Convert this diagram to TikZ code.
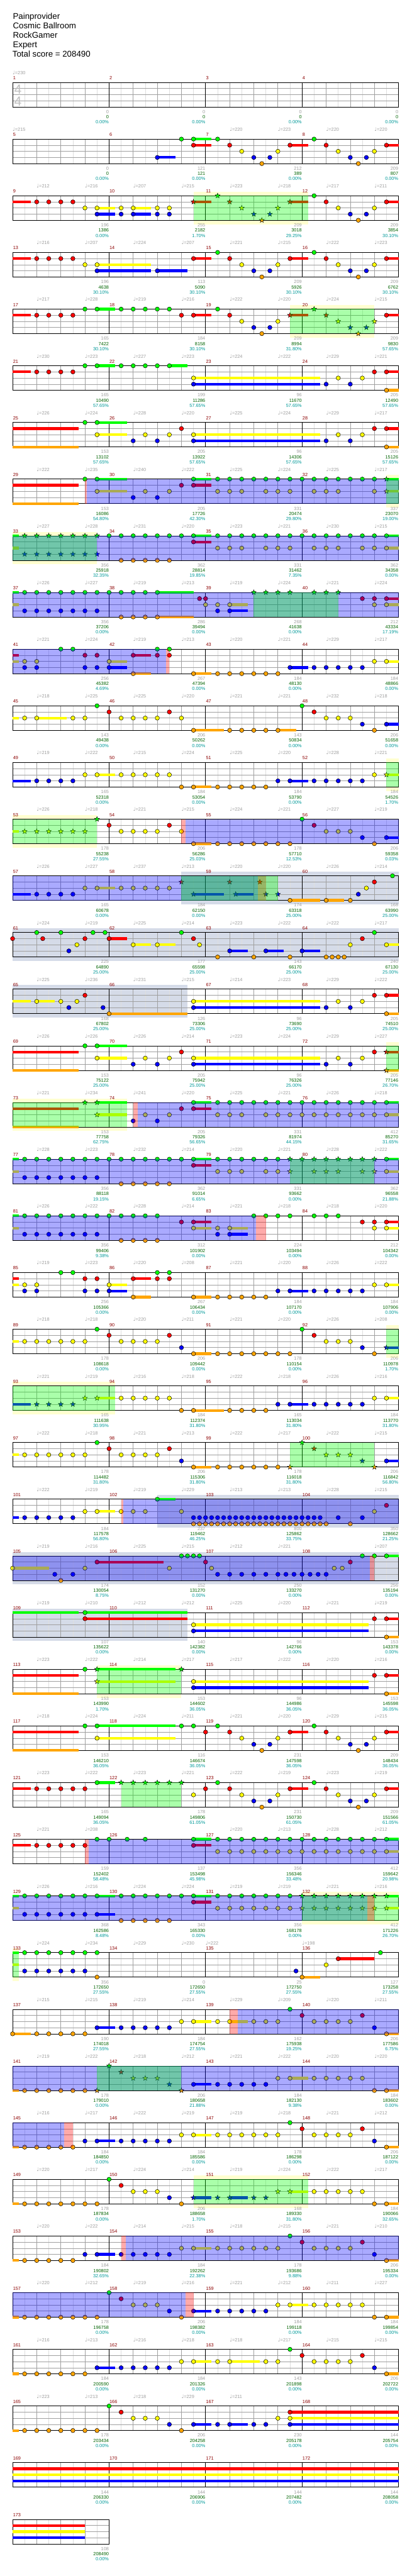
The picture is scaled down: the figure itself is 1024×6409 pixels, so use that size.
\documentclass[tikz,border=0pt]{standalone}
\usepackage{fontspec}
\setmainfont{Liberation Sans}
\newfontfamily\symf{DejaVu Sans}
\pgfdeclarelayer{yel}
\pgfdeclarelayer{sfill}
\pgfdeclarelayer{grey}
\pgfdeclarelayer{grid}
\pgfdeclarelayer{bars}
\pgfdeclarelayer{ovl}
\pgfdeclarelayer{txt}
\pgfsetlayers{yel,sfill,grey,grid,bars,main,ovl,txt}
\definecolor{lane0}{RGB}{0,255,0}
\definecolor{lane1}{RGB}{255,0,0}
\definecolor{lane2}{RGB}{255,255,0}
\definecolor{lane3}{RGB}{0,0,255}
\definecolor{lane4}{RGB}{255,165,0}
\definecolor{yelbg}{RGB}{255,255,208}
\definecolor{greybg}{RGB}{213,219,232}
\definecolor{gridlt}{RGB}{222,222,222}
\definecolor{griddk}{RGB}{160,160,160}
\definecolor{mnum}{RGB}{140,0,0}
\definecolor{tgrey}{RGB}{160,160,160}
\definecolor{tgreen}{RGB}{0,100,0}
\definecolor{tteal}{RGB}{0,153,153}
\definecolor{tsg}{RGB}{192,192,192}
\definecolor{ovblue}{RGB}{0,0,255}
\definecolor{ovgreen}{RGB}{0,255,0}
\definecolor{ovred}{RGB}{255,0,0}
% row frame
\newcommand\qW[2]{%
  \def\qrn{#1}%
  \pgfmathsetmacro\qy{205+141*(#1-1)}%
  \pgfmathsetmacro\qxe{31.3+60*#2}%
  \pgfmathtruncatemacro\qnb{#2-1}%
  \pgfmathtruncatemacro\qnm{#2/4-1}%
  \begin{pgfonlayer}{sfill}\fill[white] (31.3,\qy) rectangle (\qxe,\qy+61);\end{pgfonlayer}%
  \begin{pgfonlayer}{grid}%
    \foreach \qi in {0,...,\qnb}{\draw[gridlt,line width=1pt] ({61.3+60*\qi},\qy) -- ++(0,61);}%
    \foreach \qi in {1,...,\qnb}{\draw[griddk,line width=1pt] ({31.3+60*\qi},\qy) -- ++(0,61);}%
    \foreach \ql in {1,2,3}{\draw[griddk,line width=1pt] (31.3,{\qy+15.25*\ql}) -- (\qxe,{\qy+15.25*\ql});}%
    \ifnum#2>4 \foreach \qi in {4,8,12}{\draw[black,line width=1pt] ({31.3+60*\qi},\qy) -- ++(0,61);}\fi
    \draw[black,line width=1.2pt] (31.3,\qy) rectangle (\qxe,\qy+61);%
  \end{pgfonlayer}%
  \begin{pgfonlayer}{txt}%
    \foreach \qj in {0,...,\qnm}{\pgfmathtruncatemacro\qmm{4*(#1-1)+\qj+1}\node[mlab] (m\qmm) at ({32.3+240*\qj},\qy-7) {\qmm};}%
  \end{pgfonlayer}}
% notes, bars, stars
\newcommand\qN[2]{\foreach \bt in {#2}{\filldraw[fill=lane#1,draw=black,line width=0.8pt] ({31.3+60*\bt},{\qy+15.25*#1}) circle[radius=5.3];}}
\newcommand\qS[3]{\begin{pgfonlayer}{bars}\fill[lane#1] ({31.3+60*#2},{\qy+15.25*#1-3.3}) rectangle ({31.3+60*#3},{\qy+15.25*#1+3.3});\end{pgfonlayer}}
\newcommand\qR[2]{\foreach \bt in {#2}{\filldraw[fill=lane#1,draw=black,line width=0.7pt] ({31.3+60*\bt},{\qy+15.25*#1}) +(270:6.5) -- +(306:2.7) -- +(342:6.5) -- +(18:2.7) -- +(54:6.5) -- +(90:2.7) -- +(126:6.5) -- +(162:2.7) -- +(198:6.5) -- +(234:2.7) -- cycle;}}
% overlays and backgrounds
\newcommand\qO[3]{\begin{pgfonlayer}{ovl}\fill[ov#1,fill opacity=0.3333] ({31.3+60*#2},\qy) rectangle ({31.3+60*#3},\qy+61);\end{pgfonlayer}}
\newcommand\qY[2]{\begin{pgfonlayer}{yel}\fill[yelbg] ({31.3+60*#1},\qy-10) rectangle ({31.3+60*#2},\qy+71);\end{pgfonlayer}}
\newcommand\qG[2]{\begin{pgfonlayer}{grey}\fill[greybg] ({31.3+60*#1},\qy-10) rectangle ({31.3+60*#2},\qy+71);\end{pgfonlayer}}
% texts
\newcommand\qTT[1]{\begin{pgfonlayer}{txt}\foreach \qv [count=\qi] in {#1}{\node[tempo] (tp\qrn-\qi) at ({31.3+60*(2*\qi-1)},\qy-19.7) {{\symf\fontsize{12.5}{13}\selectfont ♩}=\qv};}\end{pgfonlayer}}
\newcommand\qT[1]{\begin{pgfonlayer}{txt}\foreach \qb/\qv in {#1}{\node[tempo] (tq\qrn-\qb) at ({31.3+60*\qb},\qy-19.7) {{\symf\fontsize{12.5}{13}\selectfont ♩}=\qv};}\end{pgfonlayer}}
\newcommand\qM[1]{\begin{pgfonlayer}{txt}\foreach \pa/\pb/\pc [count=\qj] in {#1}{%
  \node[scA] (sa\qrn-\qj) at ({31.3+240*\qj-0.5},\qy+77) {\pa};
  \node[scB] (sb\qrn-\qj) at ({31.3+240*\qj-0.5},\qy+90.3) {\pb};
  \node[scC] (sc\qrn-\qj) at ({31.3+240*\qj-0.5},\qy+103) {\pc\%};}\end{pgfonlayer}}
% recurring figures
\newcommand\qRiff{\qN{0}{8.5,12.5}\qN{1}{9,11.5,13,15.5}\qS{1}{11.5}{12.25}\qS{1}{15.5}{16}\qN{2}{9.5,11,13.5,15}\qN{3}{10,10.667,14,14.667}\qN{4}{10.333,14.333}}
\newcommand\qEnd{\qN{2}{7.5,13.5,14.5}\qS{2}{7.5}{12.75}\qN{3}{7.5,13,14}\qS{3}{7.5}{12.75}\qN{1}{15,15.5}\qS{1}{15.5}{16}\qN{4}{15.5}\qS{4}{15.5}{16}}
\begin{document}
\begin{tikzpicture}[x=1pt,y=-1pt,
  tempo/.style={text=tgrey,font=\fontsize{11.5}{13}\selectfont,inner sep=0pt,anchor=base west},
  mlab/.style={text=mnum,font=\fontsize{11.5}{13}\selectfont,inner sep=0pt,anchor=base west},
  scA/.style={text=tgrey,font=\fontsize{11.5}{13}\selectfont,inner sep=0pt,anchor=base east},
  scB/.style={text=tgreen,font=\fontsize{11.5}{13}\selectfont,inner sep=0pt,anchor=base east},
  scC/.style={text=tteal,font=\fontsize{11.5}{13}\selectfont,inner sep=0pt,anchor=base east},
  ttl/.style={font=\fontsize{20.8}{23}\selectfont,inner sep=0pt,anchor=base west},
  tsig/.style={text=tsg,font=\fontsize{33}{36}\selectfont,inner sep=0pt,anchor=base}]
\useasboundingbox (0,0) rectangle (1024,6409);
\begin{pgfonlayer}{yel}\fill[white] (0,0) rectangle (1024,6409);\end{pgfonlayer}
\node[ttl] (t1) at (32,48.5) {Painprovider};
\node[ttl] (t2) at (32,71.6) {Cosmic Ballroom};
\node[ttl] (t3) at (32,94.7) {RockGamer};
\node[ttl] (t4) at (32,117.8) {Expert};
\node[ttl] (t5) at (31,140.9) {Total score = 208490};
% ---- row 1
\qW{1}{16}
\qT{0/230}
\qM{0/0/0.00,0/0/0.00,0/0/0.00,0/0/0.00}
\begin{pgfonlayer}{txt}
\node[tsig] (ts1) at (44.7,233.3) {4};
\node[tsig] (ts2) at (44.7,263.3) {4};
\end{pgfonlayer}
% ---- row 2
\qW{2}{16}
\qT{0/215,9/220,11/223,13/220,15/220}
\qM{0/0/0.00,121/121/0.00,212/389/0.00,209/807/0.00}
\qS{3}{6}{6.75}\qN{3}{6}
\qS{0}{7.5}{8.25}\qN{0}{7,7.5}
\qS{1}{7.5}{8.25}\qN{1}{7.5}
\qRiff
% ---- row 3
\qW{3}{16}
\qTT{212,216,207,215,223,218,217,211}
\qM{196/1386/0.00,255/2182/1.70,209/3018/29.25,209/3854/30.10}
\qS{1}{0}{0.75}\qN{1}{1,1.5,2,2.5}
\qS{2}{3.5}{4.25}\qS{2}{5}{5.75}\qN{2}{3,3.5,4.5,5,6,6.5}
\qS{3}{3.5}{4.25}\qS{3}{5}{5.75}\qN{3}{3.5,4.5,5,6,6.5}
\qY{7.5}{12.25}\qO{green}{7.5}{12.25}
\qS{1}{7.5}{8.25}\qS{1}{11.5}{12.25}
\qR{0}{8.5}\qR{1}{7.5,9,11.5}\qR{2}{9.5,11}\qR{3}{10,10.667}\qR{4}{10.333}
\qN{0}{12.5}\qN{1}{13,15.5}\qS{1}{15.5}{16}\qN{2}{13.5,15}\qN{3}{14,14.667}\qN{4}{14.333}
% ---- row 4
\qW{4}{16}
\qTT{216,207,224,207,221,215,222,223}
\qM{196/4638/30.10,113/5090/30.10,209/5926/30.10,209/6762/30.10}
\qS{1}{0}{0.75}\qN{1}{1,1.5,2,2.5}
\qN{2}{3,3.5}\qS{2}{3.5}{5.75}
\qN{3}{3.5,6}\qS{3}{3.5}{5.75}\qS{3}{6}{7.25}
\qN{1}{7.5}\qS{1}{7.5}{8.25}
\qRiff
% ---- row 5
\qW{5}{16}
\qTT{217,228,219,216,222,220,224,215}
\qM{165/7422/30.10,184/8158/30.10,209/8994/31.80,209/9830/57.65}
\qS{1}{0}{0.75}\qN{1}{1,1.5,2,2.5}
\qN{0}{3,3.5,4.5,5,5.5,6,6.5}\qS{0}{3.5}{4.25}
\qN{1}{7,7.5}\qS{1}{7.5}{8.25}
\qN{0}{8.5}\qN{1}{9}\qN{2}{9.5,11}\qN{3}{10,10.667}\qN{4}{10.333}
\qY{11.5}{15}\qO{green}{11.5}{15}
\qR{1}{11.5,13}\qS{1}{11.5}{12.25}\qR{0}{12.5}\qR{2}{13.5,15}\qR{3}{14,14.667}\qR{4}{14.333}
\qN{1}{15.5}\qS{1}{15.5}{16}
% ---- row 6
\qW{6}{16}
\qTT{230,223,227,223,224,222,229,221}
\qM{165/10490/57.65,199/11286/57.65,96/11670/57.65,205/12490/57.65}
\qS{1}{0}{0.75}\qN{1}{1,1.5,2,2.5}
\qN{0}{3,3.5,4.5,5,5.5,6,6.5}\qS{0}{3.5}{4.25}\qS{0}{6.5}{7.25}
\qEnd
% ---- row 7
\qW{7}{16}
\qTT{226,224,228,220,225,224,229,217}
\qM{153/13102/57.65,205/13922/57.65,96/14306/57.65,205/15126/57.65}
\qS{1}{0}{2.75}\qS{4}{0}{2.75}
\qN{0}{3,3.5}\qS{0}{3.5}{4.75}
\qN{2}{3.5,5.5,6.5}\qS{2}{3.5}{4.75}
\qN{3}{5,6}\qN{1}{7}
\qEnd
% ---- row 8
\qW{8}{16}
\qTT{222,235,240,222,225,224,225,217}
\qM{153/16086/54.80,205/17726/42.30,331/20474/29.80,337/23070/19.00}
\qS{1}{0}{2.75}\qS{4}{0}{2.75}
\qN{0}{3,3.5}\qS{0}{3.5}{4.75}
\qN{2}{3.5,5.5,6.5}\qS{2}{3.5}{4.75}
\qN{3}{5,6}
\qN{1}{7,7.5}\qS{1}{7.5}{8.25}
\qN{0}{7.5,8.5,9,...,15}\qS{0}{7.5}{8.25}
\qN{2}{8.5,9,9.5,10.5,11,11.5,12.5,13,13.5,15}
\qO{red}{3}{3.08}\qO{blue}{3.08}{16}
\qY{15.5}{16}\qO{green}{15.5}{16}
\qR{0}{15.5}\qS{0}{15.5}{16}\qR{2}{15.5}\qS{2}{15.5}{16}
% ---- row 9
\qW{9}{16}
\qTT{227,228,231,220,223,221,230,215}
\qM{356/25918/32.35,362/28814/19.85,331/31462/7.35,362/34358/0.00}
\qO{blue}{0}{16}
\qY{0}{3.5}\qO{green}{0}{3.5}
\qS{0}{0}{0.25}\qS{2}{0}{0.25}
\qR{0}{0.5,1,...,3.5}\qR{3}{0.5,1,...,3.5}
\qN{0}{4,4.5,...,7.5}\qN{0}{8.5,9,...,15.5}\qS{0}{7.5}{8.25}\qS{0}{15.5}{16}
\qN{4}{4.5,5,5.5,6,6.5}
\qN{1}{7.5}\qS{1}{7.5}{8.25}
\qN{2}{8.5,9,9.5,10.5,11,11.5,12.5,13,13.5,14.5,15,15.5}\qS{2}{15.5}{16}
% ---- row 10
\qW{10}{16}
\qTT{226,227,219,213,219,224,221,224}
\qM{356/37206/0.00,286/39494/0.00,268/41638/0.00,212/43334/17.19}
\qO{blue}{0}{16}
\qS{0}{0}{0.25}\qS{2}{0}{0.25}
\qN{0}{0.5,1,...,6}\qS{0}{6}{7.5}
\qN{3}{0.5,1,...,3.5}
\qN{4}{4.5,5,5.5,6}\qS{4}{6}{7.5}
\qN{1}{7.75,8}
\qN{2}{8,8.5,9}\qS{2}{9}{9.75}
\qN{3}{8.5,9}\qS{3}{9}{9.75}
\qO{green}{10}{13.5}
\qR{0}{10,10.5,11,11.5,12.5,13,13.5}
\qN{1}{14.5,15,15.5}\qS{1}{15.5}{16}
\qN{2}{15,15.5}\qS{2}{15.5}{16}
% ---- row 11
\qW{11}{16}
\qTT{221,224,219,213,220,221,229,217}
\qM{256/45382/4.69,267/47394/0.00,184/48130/0.00,184/48866/0.00}
\qO{blue}{0}{6.35}\qO{red}{6.35}{6.5}
\qS{1}{0}{0.25}\qS{2}{0}{0.25}
\qN{0}{2,2.5,6,6.5}
\qN{1}{3,3.5,5,6,6.5}\qS{1}{5}{5.75}
\qN{2}{0.5,1,4}\qS{2}{4}{4.75}
\qN{3}{0.5,1,3,3.5,4}\qS{3}{4}{4.75}
\qN{4}{5,7.5,8.5,9,9.5,10,10.5,11}\qS{4}{5}{5.75}\qS{4}{7.5}{8.25}
\qN{3}{11.5,12.5,13,13.5,14,14.5}\qS{3}{11.5}{12.25}
\qN{2}{15,15.5}\qS{2}{15.5}{16}
% ---- row 12
\qW{12}{16}
\qTT{218,225,225,220,221,221,232,218}
\qM{143/49438/0.00,206/50262/0.00,143/50834/0.00,206/51658/0.00}
\qS{2}{0}{0.25}\qN{2}{0.5,1,2.5,3}\qS{2}{1}{2.25}
\qN{0}{3.5}\qN{1}{4,6.5}\qN{2}{4.5,5,5.5,6,7}
\qN{4}{7.5,9,9.5,10,10.5,11}\qS{4}{7.5}{8.75}\qS{4}{11}{11.75}
\qN{0}{12}\qN{1}{12.5}\qN{2}{13,13.5,14}\qN{3}{14.5,15.5}\qN{4}{15}\qS{3}{15.5}{16}
% ---- row 13
\qW{13}{16}
\qTT{219,222,215,224,225,220,228,221}
\qM{165/52318/0.00,184/53054/0.00,184/53790/0.00,184/54526/1.70}
\qS{3}{0}{0.75}\qN{3}{1,1.5,2,2.5}
\qN{2}{3,3.5,4.5,5,5.5,6,6.5}\qS{2}{3.5}{4.25}
\qN{4}{7,7.5,8.5,9,9.5,10,10.5}\qS{4}{7.5}{8.25}
\qN{3}{11,11.5,12.5,13,13.5,14,14.5}\qS{3}{11.5}{12.25}
\qN{2}{15}
\qY{15.5}{16}\qO{green}{15.5}{16}
\qR{2}{15.5}\qS{2}{15.5}{16}
% ---- row 14
\qW{14}{16}
\qTT{226,218,221,215,224,221,227,219}
\qM{178/55238/27.55,206/56286/25.03,178/57710/12.53,206/59358/0.03}
\qY{0}{3.5}\qO{green}{0}{3.5}
\qS{2}{0}{0.25}\qR{2}{0.5,1,1.5,2,2.5,3}\qR{0}{3.5}
\qN{1}{4,6.5}\qN{2}{4.5,5,5.5,6,7}
\qO{red}{7}{7.17}\qO{blue}{7.17}{16}
\qN{4}{7.5,8.5,9,9.5,10,10.5,11,11.5}\qS{4}{7.5}{8.25}
\qN{0}{12}\qN{1}{12.5}\qN{2}{13,13.5,14}\qN{3}{14.5,15.5}\qN{4}{15}\qS{3}{15.5}{16}
% ---- row 15
\qW{15}{16}
\qTT{226,227,237,213,220,220,226,214}
\qM{165/60678/0.00,184/62150/0.00,174/63318/25.00,168/63990/25.00}
\qG{7}{16}
\qO{blue}{0}{10.17}\qO{red}{10.17}{10.5}\qO{green}{7}{11}
\qS{3}{0}{0.75}\qN{3}{1,1.5,2,2.5}
\qN{2}{3,3.5,4.5,5,5.5,6,6.5}\qS{2}{3.5}{4.25}
\qR{1}{7,9,10.25}\qR{3}{7.5,9.25,10.5,11}\qS{3}{7.5}{8.75}\qS{3}{9.25}{10}
\qN{4}{11.5,13,14}\qS{4}{11.5}{12.75}\qS{4}{13}{13.75}
\qN{3}{14.333}\qN{2}{14.667}\qN{1}{15}\qN{0}{15.75}
% ---- row 16
\qW{16}{16}
\qTT{224,219,225,214,223,222,222,217}
\qM{225/64890/25.00,177/65598/25.00,143/66170/25.00,240/67130/25.00}
\qG{0}{16}
\qN{1}{0,1.25,3,4,7.5,14.5}\qS{1}{4}{4.75}
\qN{0}{1,2,3.333,3.833,7,15}
\qN{3}{2.333,9,10.5,12}\qS{3}{9}{9.75}\qS{3}{10.5}{11.25}\qS{3}{12}{12.75}
\qN{2}{2.667,5,6,7.75,14,15.5}\qS{2}{5}{5.75}\qS{2}{6}{6.75}\qS{2}{15.5}{16}
\qN{4}{8.5,10,11.5,13,13.25,13.5,13.75}
% ---- row 17
\qW{17}{16}
\qTT{225,236,231,215,214,223,229,222}
\qM{168/67802/25.00,126/73306/25.00,96/73690/25.00,205/74510/25.00}
\qG{0}{7.25}
\qS{2}{0}{0.75}\qN{2}{1,2,2.667}\qS{2}{1}{1.75}
\qN{3}{2.333,3.75}\qN{1}{3}\qN{4}{4}\qS{4}{4}{7.25}
\qEnd
% ---- row 18
\qW{18}{16}
\qTT{226,226,226,214,223,224,229,227}
\qM{153/75122/25.00,205/75942/25.00,96/76326/25.00,205/77146/26.70}
\qS{1}{0}{2.75}\qS{4}{0}{2.75}
\qN{0}{3,3.5}\qS{0}{3.5}{4.75}\qN{2}{3.5,5.5,6.5}\qS{2}{3.5}{4.75}\qN{3}{5,6}\qN{1}{7}
\qN{2}{7.5,13.5,14.5}\qS{2}{7.5}{12.75}\qN{3}{7.5,13,14}\qS{3}{7.5}{12.75}\qN{1}{15}
\qY{15.5}{16}\qO{green}{15.5}{16}
\qR{1}{15.5}\qS{1}{15.5}{16}\qR{4}{15.5}\qS{4}{15.5}{16}
% ---- row 19
\qW{19}{16}
\qTT{221,234,241,220,225,221,226,218}
\qM{153/77758/62.75,205/79326/56.65,331/81974/44.15,412/85270/31.65}
\qY{0}{4.75}\qO{green}{0}{4.75}
\qS{1}{0}{2.75}\qS{4}{0}{2.75}
\qR{0}{3,3.5}\qS{0}{3.5}{4.75}\qR{2}{3.5}\qS{2}{3.5}{4.75}
\qO{red}{5}{5.2}\qO{blue}{5.2}{16}
\qN{3}{5,6}\qN{2}{5.5,6.5}\qN{1}{7,7.5}\qS{1}{7.5}{8.25}
\qN{0}{7.5,8.5,9,...,15.5}\qS{0}{7.5}{8.25}\qS{0}{15.5}{16}
\qN{2}{8.5,9,9.5,10.5,11,11.5,12,12.5,13,13.5,14,14.5,15,15.5}\qS{2}{15.5}{16}
% ---- row 20
\qW{20}{16}
\qTT{228,223,232,214,220,221,228,222}
\qM{356/88118/19.15,362/91014/6.65,331/93662/0.00,362/96558/21.88}
\qO{blue}{0}{16}\qO{green}{11.5}{15}
\qS{0}{0}{0.25}\qS{2}{0}{0.25}
\qN{0}{0.5,1,...,7.5}\qN{0}{8.5,9,...,11}\qN{0}{15.5}\qS{0}{7.5}{8.25}\qS{0}{15.5}{16}
\qR{0}{11.5,12,...,15}
\qN{3}{0.5,1,...,3.5}\qN{4}{4.5,5,...,6.5}
\qN{1}{7.5}\qS{1}{7.5}{8.25}
\qN{2}{8.5,9,9.5,10.5,11,15.5}\qR{2}{11.5,12.5,13,13.5,14.5,15}\qS{2}{15.5}{16}
% ---- row 21
\qW{21}{16}
\qTT{226,222,228,214,221,218,218,220}
\qM{356/99406/9.38,312/101902/0.00,224/103494/0.00,212/104342/0.00}
\qO{blue}{0}{10.1}\qO{red}{10.1}{10.5}
\qS{0}{0}{0.25}\qS{2}{0}{0.25}
\qN{0}{0.5,1,...,6}\qN{0}{10,10.5,11,11.5,12.5,13,13.5}
\qN{3}{0.5,1,...,3.5}\qN{3}{8.5,9}\qS{3}{9}{9.75}
\qN{4}{4.5,5,5.5,6}
\qN{1}{7,7.5,14.5,15,15.5}\qS{1}{7.5}{8.25}\qS{1}{15.5}{16}
\qN{2}{7.5,8.5,9,15,15.5}\qS{2}{7.5}{8.25}\qS{2}{9}{9.75}\qS{2}{15.5}{16}
% ---- row 22
\qW{22}{16}
\qTT{219,223,220,208,221,220,226,222}
\qM{256/105366/0.00,267/106434/0.00,184/107170/0.00,184/107906/0.00}
\qS{1}{0}{0.25}\qS{2}{0}{0.25}
\qN{2}{0.5,1,4}\qS{2}{4}{4.75}
\qN{3}{0.5,1,3,3.5,4}\qS{3}{4}{4.75}
\qN{0}{2,2.5,6,6.5}
\qN{1}{3,3.5,5,6,6.5}\qS{1}{5}{5.75}
\qN{4}{5,7.5,8.5,9,9.5,10,10.5}\qS{4}{5}{5.75}\qS{4}{7.5}{8.25}
\qN{3}{11,11.5,12.5,13,13.5,14,14.5}\qS{3}{11.5}{12.25}
\qN{2}{15,15.5}\qS{2}{15.5}{16}
% ---- row 23
\qW{23}{16}
\qTT{218,218,220,211,221,220,226,208}
\qM{178/108618/0.00,206/109442/0.00,178/110154/0.00,206/110978/1.70}
\qS{2}{0}{0.25}\qN{2}{0.5,1,1.5,2,2.5,3,4.5,5,5.5,6}
\qN{0}{3.5}\qN{1}{4,6.5}\qN{3}{7}
\qN{4}{7.5,8.5,9,9.5,10,10.5,11,11.5}\qS{4}{7.5}{8.25}
\qN{0}{12}\qN{1}{12.5}\qN{2}{13,13.5,14}\qN{3}{14.5}\qN{4}{15}
\qY{15.5}{16}\qO{green}{15.5}{16}\qR{3}{15.5}\qS{3}{15.5}{16}
% ---- row 24
\qW{24}{16}
\qTT{221,219,216,218,222,218,226,216}
\qM{165/111638/30.95,184/112374/31.80,165/113034/31.80,184/113770/31.80}
\qY{0}{4.25}\qO{green}{0}{4.25}
\qS{3}{0}{0.75}\qR{3}{1,1.5,2,2.5}\qR{2}{3,3.5}\qS{2}{3.5}{4.25}
\qN{2}{4.5,5,5.5,6,6.5}
\qN{4}{7,7.5,9,9.5,10,10.5}\qS{4}{7.5}{8.75}
\qN{3}{11,11.5,12.5,13,13.5,14,14.5}\qS{3}{11.5}{12.25}
\qN{2}{15,15.5}\qS{2}{15.5}{16}
% ---- row 25
\qW{25}{16}
\qTT{222,218,221,213,222,217,222,215}
\qM{178/114482/31.80,206/115306/31.80,178/116018/31.80,206/116842/56.80}
\qS{2}{0}{0.25}\qN{2}{0.5,1,1.5,2,2.5,3,4.5,5,5.5,6}
\qN{0}{3.5}\qN{1}{4,6.5}\qN{3}{7}
\qN{4}{7.5,8.5,9,9.5,10,10.5,11}\qS{4}{7.5}{8.25}
\qO{green}{11.5}{15}
\qR{4}{11.5,15}\qR{0}{12}\qR{1}{12.5}\qR{2}{13,13.5,14}\qR{3}{14.5}
\qN{3}{15.5}\qS{3}{15.5}{16}
% ---- row 26
\qW{26}{16}
\qTT{222,219,219,229,213,213,228,215}
\qM{184/117578/56.80,237/119462/46.25,800/125862/33.75,350/128662/21.25}
\qG{6}{16}
\qO{red}{4.5}{4.6}\qO{blue}{4.6}{16}
\qS{3}{0}{0.25}\qN{3}{0.5,1,1.5,2,2.5}
\qN{2}{3,3.5,4.5,5,5.5,7,15}\qS{2}{3.5}{4.25}
\qN{0}{6}\qS{0}{6}{6.75}
\qN{3}{7.5,7.75,8,8.25,8.5,8.75,9,9.25,9.5,9.75,10,10.25,10.5,10.75,11,11.25,11.5,11.75,12,12.25,12.5,12.75,13.5,14.5}
\qN{4}{7.5,7.75,8,8.25,8.5,8.75,9,9.25,9.5,9.75,10,10.25,10.5,10.75,11,11.25,11.5,11.75,12,12.25,12.5,12.75,13,14}
\qN{1}{15.5}
% ---- row 27
\qW{27}{16}
\qT{1/219,3/216,5/225,7/215,9/212,11/221,15/207}
\qM{174/130054/8.75,152/131270/0.00,250/133270/0.00,256/135194/0.00}
\qG{0}{16}
\qO{blue}{0}{14.8}\qO{red}{14.8}{15}
\qN{2}{0,3,6.5,8.25,13.333,13.667}\qS{2}{0}{1.5}
\qN{3}{1.75,2.5,8.5,9,9.5,10,10.5,11,11.333,11.667,12,12.333,12.667,13}
\qN{4}{2}
\qN{1}{3.5,8,14}\qS{1}{3.5}{6.25}
\qN{0}{7,7.25,7.5,7.75,14.5,15,15.5}\qS{0}{15.5}{16}
% ---- row 28
\qW{28}{16}
\qTT{219,210,212,212,225,220,221,219}
\qM{107/135622/0.00,140/142382/0.00,96/142766/0.00,153/143378/0.00}
\qG{0}{7.25}
\qS{0}{0}{2.75}\qN{0}{3}\qS{0}{3}{7.25}\qN{1}{3}\qS{1}{3}{7.25}
\qN{2}{7.5}\qS{2}{7.5}{14.75}\qN{3}{7.5}\qS{3}{7.5}{14.75}
\qN{1}{15,15.5}\qS{1}{15.5}{16}\qN{4}{15.5}\qS{4}{15.5}{16}
% ---- row 29
\qW{29}{16}
\qTT{223,222,214,217,217,222,220,216}
\qM{153/143990/1.70,153/144602/36.05,96/144986/36.05,153/145598/36.05}
\qS{1}{0}{2.75}\qS{4}{0}{2.75}\qN{0}{3}
\qY{3.5}{7}\qO{green}{3.5}{7}
\qR{0}{3.5,7}\qS{0}{3.5}{6.75}\qR{2}{3.5}\qS{2}{3.5}{6.75}
\qN{2}{7.5}\qS{2}{7.5}{14.75}\qN{3}{7.5}\qS{3}{7.5}{14.75}
\qN{1}{15,15.5}\qS{1}{15.5}{16}\qN{4}{15.5}\qS{4}{15.5}{16}
% ---- row 30
\qW{30}{16}
\qTT{218,224,224,211,221,220,229,215}
\qM{153/146210/36.05,116/146674/36.05,231/147598/36.05,209/148434/36.05}
\qS{1}{0}{2.75}\qS{4}{0}{2.75}
\qN{0}{3,3.5,7,7.5}\qS{0}{3.5}{6.75}\qN{2}{3.5}\qS{2}{3.5}{6.75}
\qN{1}{8}\qRiff
% ---- row 31
\qW{31}{16}
\qTT{223,222,223,221,222,219,223,219}
\qM{165/149094/36.05,178/149806/61.05,231/150730/61.05,209/151566/61.05}
\qS{1}{0}{0.75}\qN{1}{1,1.5,2,2.5,3}
\qN{0}{3.5}\qS{0}{3.5}{4.25}
\qO{green}{4.5}{7}\qR{0}{4.5,5,5.5,6,6.5,7}
\qN{2}{7.5}\qN{1}{8}\qRiff
% ---- row 32
\qW{32}{16}
\qT{1/221,3/208,9/220,11/213,13/228,15/212}
\qM{159/152402/58.48,137/153498/45.98,356/156346/33.48,412/159642/20.98}
\qS{1}{0}{0.75}\qN{1}{1,1.5,2,2.5,3}
\qO{red}{3}{3.15}\qO{blue}{3.15}{16}
\qN{0}{3.5,4,4.75,5.5,7.5}\qN{0}{8.5,9,...,15.5}\qS{0}{7.5}{8.25}\qS{0}{15.5}{16}
\qN{1}{7.5}\qS{1}{7.5}{8.25}
\qN{2}{8.5,9,...,15.5}\qS{2}{15.5}{16}
% ---- row 33
\qW{33}{16}
\qTT{226,216,224,224,219,219,221,216}
\qM{368/162586/8.48,343/165330/0.00,356/168178/0.00,412/171226/26.70}
\qO{blue}{0}{14.7}\qY{12}{16}\qO{green}{12}{16}\qO{red}{14.7}{15}
\qS{0}{0}{0.25}\qS{2}{0}{0.25}
\qN{0}{0.5,1,...,3.5}\qN{0}{4.5,5,...,7.5}\qN{0}{8.5,9,...,11.5}\qS{0}{3.5}{4.25}\qS{0}{7.5}{8.25}
\qR{0}{12,12.5,...,15.5}\qS{0}{15.5}{16}
\qN{3}{0.5,1,...,3.5}\qS{3}{3.5}{4.25}
\qN{4}{4.5,5,...,6.5}
\qN{1}{7.5}\qS{1}{7.5}{8.25}
\qN{2}{8.5,9,...,11.5}\qR{2}{12,12.5,...,15.5}\qS{2}{15.5}{16}
% ---- row 34
\qW{34}{16}
\qT{1/224,3/234,5/229,7/230,8/222,12/198}
\qM{356/172650/27.55,0/172650/27.55,25/172750/27.55,127/173258/27.55}
\qY{0}{0.25}\qO{green}{0}{0.25}
\qS{0}{0}{0.25}\qS{2}{0}{0.25}
\qN{0}{0.5,1,...,3.5}\qN{3}{0.5,1,...,3}\qN{4}{3.5}
\qN{3}{11.75}\qN{4}{12}\qS{4}{12}{12.75}\qN{2}{13}\qN{1}{13.5}\qS{1}{13.5}{15}\qN{0}{15.25}
% ---- row 35
\qW{35}{16}
\qTT{215,215,219,214,229,209,220,211}
\qM{190/174018/27.55,184/174754/27.55,162/175938/19.25,206/177586/6.75}
\qN{4}{0,1,1.5,2,2.5,3,15.5}\qS{4}{0}{0.75}\qS{4}{15.5}{16}
\qN{3}{3.5,4.5,5,5.5,6,6.5,15}\qS{3}{3.5}{4.25}
\qN{2}{7,7.5,8.5,9,10,10.5,11,12.5,13,13.5,14}\qS{2}{7.5}{8.25}\qS{2}{9}{9.75}
\qO{red}{9}{9.33}\qO{blue}{9.33}{16}
\qN{0}{11.5}\qN{1}{12,14.5}
% ---- row 36
\qW{36}{16}
\qTT{219,222,218,212,221,222,220,220}
\qM{178/179010/0.00,206/180658/21.88,184/182130/9.38,184/183602/0.00}
\qO{blue}{0}{16}\qO{green}{3.5}{7}
\qS{4}{0}{0.25}\qN{4}{0.5,1,1.5,2,2.5,3}\qR{4}{3.5,7}
\qR{0}{4}\qR{1}{4.5}\qR{2}{5,5.5,6}\qR{3}{6.5}
\qN{3}{7.5,8.5,9,9.5,10,10.5}\qS{3}{7.5}{8.25}
\qN{2}{11,11.5,12.5,13,13.5,14,14.5}\qS{2}{11.5}{12.25}
\qN{4}{15,15.5}\qS{4}{15.5}{16}
% ---- row 37
\qW{37}{16}
\qTT{216,217,222,219,219,218,221,212}
\qM{184/184850/0.00,184/185586/0.00,178/186298/0.00,206/187122/0.00}
\qO{blue}{0}{2.15}\qO{red}{2.15}{2.5}
\qS{4}{0}{0.25}\qN{4}{0.5,1,1.5,2,2.5,15.5}\qS{4}{15.5}{16}
\qN{3}{3,3.5,4.5,5,5.5,6,6.5,15}\qS{3}{3.5}{4.25}
\qN{2}{7,7.5,8.5,9,9.5,10,10.5,11,12.5,13,13.5,14}\qS{2}{7.5}{8.25}
\qN{0}{11.5}\qN{1}{12,14.5}
% ---- row 38
\qW{38}{16}
\qTT{220,217,224,214,219,224,222,217}
\qM{178/187834/0.00,206/188658/1.70,168/189330/31.80,184/190066/32.65}
\qS{4}{0}{0.25}\qN{4}{0.5,1,1.5,2,2.5,3,3.5,7,15,15.5}\qS{4}{15.5}{16}
\qN{0}{4}\qN{1}{4.5}\qN{2}{5,5.5,6,12.5,13,13.5,14,14.5}\qN{3}{6.5}
\qY{7.5}{12.25}\qO{green}{7.5}{12.25}
\qR{3}{7.5,8.5,9,10,10.5}\qS{3}{7.5}{8.25}\qS{3}{9}{9.75}
\qR{2}{11,11.5}\qS{2}{11.5}{12.25}
% ---- row 39
\qW{39}{16}
\qTT{220,222,214,215,218,215,221,210}
\qM{184/190802/32.65,184/192262/22.38,178/193686/9.88,206/195334/0.00}
\qS{4}{0}{0.25}\qN{4}{0.5,1,1.5,2,2.5,15.5}\qS{4}{15.5}{16}
\qN{3}{3,3.5,4.5,5,5.5,6,6.5,15}\qS{3}{3.5}{4.25}
\qO{red}{4.5}{4.7}\qO{blue}{4.7}{16}
\qN{2}{7,7.5,8.5,9,9.5,10,10.5,11,12.5,13,13.5,14}\qS{2}{7.5}{8.25}
\qN{0}{11.5}\qN{1}{12,14.5}
% ---- row 40
\qW{40}{16}
\qTT{220,212,219,216,221,212,211,227}
\qM{178/196758/0.00,206/198382/0.00,184/199118/0.00,184/199854/0.00}
\qO{blue}{0}{7.17}\qO{red}{7.17}{7.5}
\qS{4}{0}{0.25}\qN{4}{0.5,1,1.5,2,2.5,3,3.5,7,15,15.5}\qS{4}{15.5}{16}
\qN{0}{4}\qN{1}{4.5}\qN{2}{5,5.5,6,11,11.5,12.5,13,13.5,14,14.5}\qS{2}{11.5}{12.25}
\qN{3}{6.5,7.5,8.5,9,9.5,10,10.5}\qS{3}{7.5}{8.25}
% ---- row 41
\qW{41}{16}
\qTT{216,213,216,218,218,217,215,215}
\qM{184/200590/0.00,184/201326/0.00,143/201898/0.00,206/202722/0.00}
\qS{4}{0}{0.25}\qN{4}{0.5,1,1.5,2,2.5,3,15.5}\qS{4}{15.5}{16}
\qN{3}{3.5,4.5,5,5.5,6,6.5,15}\qS{3}{3.5}{4.25}
\qN{2}{7,7.5,8.5,9,10.5,11,12.5,13,13.5,14}\qS{2}{7.5}{8.25}\qS{2}{9}{10.25}
\qN{0}{11.5}\qN{1}{12,14.5}
% ---- row 42
\qW{42}{16}
\qT{1/223,3/213,5/218,7/229,9/211}
\qM{178/203434/0.00,206/204258/0.00,230/205178/0.00,144/205754/0.00}
\qS{4}{0}{0.25}\qN{4}{0.5,1,1.5,2,2.5,3,3.5,7}
\qN{0}{4}\qN{1}{4.5}\qN{2}{5,5.5,6,11}
\qN{3}{6.5,7.5,8.5,9,10,10.5}\qS{3}{7.5}{8.25}\qS{3}{9}{9.75}
\qS{1}{11.5}{16}\qS{2}{11.5}{16}\qS{3}{11.5}{16}\qN{1}{11.5}\qN{2}{11.5}\qN{3}{11.5}
% ---- row 43
\qW{43}{16}
\qM{144/206330/0.00,144/206906/0.00,144/207482/0.00,144/208058/0.00}
\qS{1}{0}{16}\qS{2}{0}{16}\qS{3}{0}{16}
% ---- row 44
\qW{44}{4}
\qM{108/208490/0.00}
\qS{1}{0}{3}\qS{2}{0}{3}\qS{3}{0}{3}
\end{tikzpicture}
\end{document}
